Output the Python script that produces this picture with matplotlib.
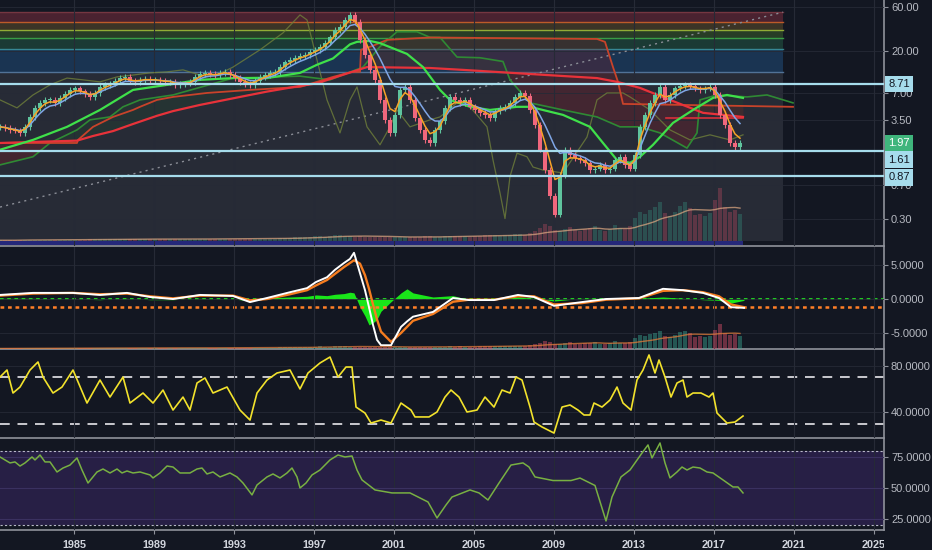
import numpy as np
import pandas as pd
import matplotlib
matplotlib.use('Agg')
import matplotlib.pyplot as plt
import matplotlib.transforms as mtransforms
from matplotlib.ticker import NullLocator

plt.rcParams['font.family'] = ['Liberation Sans', 'DejaVu Sans']

BG = '#131722'
GRID = '#262a36'
SEP = '#8f929b'
TXT = '#b7bac2'

# ---------------- data ----------------
t0 = 1981.3          # first quarter on screen
t_end = 2025.5       # right edge of the plot area

# quarterly closes
close = [2.98, 2.90, 2.76, 2.70, 2.56, 2.98, 3.82, 4.79, 5.43, 5.85,
         5.85, 5.43, 6.15, 6.80, 7.51, 7.80, 7.25, 6.80, 6.30, 6.96,
         8.09, 8.52, 8.85, 9.35, 10.1, 10.4, 9.35, 9.19, 9.66, 9.90,
         9.66, 9.66, 9.35, 9.19, 9.19, 8.52, 8.70, 8.85, 9.19, 10.4,
         11.2, 11.5, 11.2, 10.9, 11.5, 11.8, 10.9, 10.1, 9.19, 8.70,
         8.52, 9.35, 10.4, 10.9, 11.5, 11.8, 13.3, 15.0, 15.9, 16.8,
         17.6, 18.0, 19.4, 20.5, 22.0, 24.6, 28.0, 33.7, 36.3, 43.3,
         49.1, 41.4, 26.3, 18.0, 12.4, 9.66, 5.85, 3.55, 2.56, 4.02,
         7.51, 8.09, 5.85, 3.73, 2.76, 2.15, 1.99, 2.76, 3.42, 4.79,
         6.30, 5.85, 5.43, 5.85, 4.95, 4.55, 4.23, 4.02, 3.73, 4.38,
         4.79, 4.95, 5.43, 6.30, 6.96, 6.46, 4.55, 3.13, 1.68, 1.01,
         0.53, 0.33, 0.895, 1.68, 1.48, 1.36, 1.30, 1.21, 1.01, 1.05,
         1.15, 1.01, 1.05, 1.30, 1.41, 1.15, 1.05, 1.48, 2.98, 4.02,
         5.43, 6.62, 8.09, 5.85, 6.62, 7.80, 8.30, 8.52, 8.30, 7.80,
         7.51, 7.80, 8.09, 6.62, 4.02, 3.13, 1.99, 1.80, 1.99]

volume = [2, 2, 2, 2, 3, 3, 3, 3, 3, 3, 3, 3, 3, 3, 3, 3, 3, 3, 4, 4,
          4, 4, 4, 4, 4, 4, 4, 4, 4, 4, 4, 4, 4, 4, 4, 4, 4, 4, 4, 4,
          4, 5, 5, 5, 5, 5, 5, 5, 5, 5, 5, 5, 5, 5, 5, 5, 6, 6,
          6, 7, 7, 8, 8, 9, 10, 8, 9, 11, 12, 10, 9, 8, 9, 8, 7, 8, 8, 7,
          7, 8, 8, 7, 7, 8, 8, 9, 9, 8, 8, 9, 10, 9, 10, 9, 8, 9, 10, 11,
          12, 11, 10, 11, 12, 13, 13, 12,
          14, 18, 24, 30, 26, 20, 18, 22, 25, 20, 18, 22, 24, 26, 20, 18,
          22, 28, 24, 22, 26, 40,
          52, 48, 55, 60, 68, 50, 45, 52, 62, 68, 58, 46, 48, 45, 50, 72,
          93, 60, 52, 55, 48]

quarters = t0 + 0.25 * np.arange(len(close))

# fibonacci zone
fib_right = 2020.45
fib_levels = [52.6, 41.1, 33.6, 27.6, 20.9, 11.8]
fib_floor = 0.171
fib_fill = ['#4a2230', '#3b3426', '#283d26', '#1b3a34', '#1a3452', '#272b36']
fib_line = ['#7d3a45', '#d4622a', '#a5c23a', '#3fae4a', '#3d98a0', '#5a7fa8']
trend_x = [t0, fib_right]
trend_y = [0.40, 52.6]

# level lines at the right
level_lines = [8.71, 1.61, 0.87]
last_price = 1.97

# moving averages / overlays
green_t = [1981.30, 1982.95, 1984.65, 1986.30, 1987.95, 1989.65, 1991.30, 1992.95,
           1994.65, 1996.30, 1997.15, 1997.95, 1998.80, 1999.15, 1999.80, 2000.30,
           2001.65, 2002.45, 2003.30, 2003.80, 2004.80, 2005.80, 2007.15, 2007.80,
           2009.45, 2010.80, 2011.45, 2012.15, 2012.80, 2013.30, 2013.95, 2014.95,
           2015.95, 2016.95, 2017.65, 2018.45]
green_v = [1.68, 2.15, 2.98, 4.55, 7.51, 8.52, 9.66, 10.1,
           10.1, 11.5, 14.1, 16.5, 23.5, 25.0, 25.6, 24.2,
           18.5, 13.3, 7.51, 5.85, 4.92, 4.55, 4.92, 4.92,
           4.02, 2.98, 1.99, 1.30, 1.21, 1.41, 1.90, 3.29,
           4.55, 6.15, 6.62, 6.15]

dgreen_t = [1981.30, 1982.95, 1983.80, 1985.15, 1985.80, 1986.80, 1987.45, 1988.30,
            1989.95, 1992.95, 1996.30, 1997.80, 1999.45, 2000.30, 2001.15, 2002.15,
            2002.80, 2003.30, 2004.15, 2005.30, 2006.45, 2006.80, 2007.80, 2009.45,
            2011.15, 2012.30, 2013.30, 2014.30, 2015.65, 2016.15, 2016.30, 2017.15,
            2018.65, 2019.65, 2020.95]
dgreen_v = [1.15, 1.41, 1.99, 2.76, 3.55, 3.82, 4.92, 5.85,
            6.62, 10.1, 10.6, 9.66, 13.3, 22.2, 32.2, 32.2,
            28.0, 28.0, 17.1, 16.8, 15.3, 9.66, 5.43, 4.55,
            3.82, 2.98, 2.98, 2.56, 1.75, 2.56, 5.85, 6.62,
            6.30, 6.62, 5.43]

olive_t = [1981.30, 1982.15, 1982.95, 1983.80, 1984.65, 1985.45, 1986.30, 1987.15,
           1987.95, 1988.80, 1989.65, 1990.45, 1991.30, 1992.15, 1992.95, 1994.30,
           1995.45, 1996.30, 1996.65, 1997.15, 1997.65, 1998.30, 1998.80, 1999.15,
           1999.65, 2000.30, 2000.80, 2001.15, 2001.80, 2002.80, 2003.30, 2004.15,
           2004.80, 2005.65, 2005.95, 2006.30, 2006.55, 2006.80, 2007.15, 2007.65,
           2007.95, 2008.45, 2009.45, 2010.65, 2011.15, 2011.65, 2012.45, 2012.80,
           2013.80, 2014.80, 2015.80, 2016.80, 2017.80, 2018.45]
olive_v = [5.85, 4.79, 6.62, 8.52, 10.1, 9.66, 9.19, 10.4,
           10.9, 11.5, 11.8, 12.4, 10.9, 10.9, 13.3, 20.5,
           31.3, 49.1, 43.3, 15.9, 5.85, 2.56, 5.85, 8.09,
           2.98, 1.90, 2.98, 4.55, 2.98, 3.55, 3.82, 5.43,
           4.92, 2.98, 1.30, 0.57, 0.30, 0.86, 1.54, 1.41,
           1.09, 1.01, 0.94, 2.31, 5.85, 6.96, 6.96, 6.30,
           4.55, 2.76, 2.15, 2.44, 2.15, 2.44]

red_t = [1981.30, 1985.15, 1985.95, 1986.95, 1987.95, 1989.15, 1989.95, 1991.30,
         1993.80, 1994.65, 1996.30, 1997.15, 1997.95, 1998.90, 1999.65, 2002.80,
         2004.45, 2008.65, 2011.15, 2012.15, 2013.30, 2014.80, 2016.45, 2018.45]
red_v = [1.99, 2.11, 2.37, 2.68, 3.20, 3.93, 4.42, 5.16,
         6.62, 7.20, 8.30, 8.85, 10.1, 11.8, 13.3, 13.0,
         12.4, 10.9, 10.1, 9.19, 7.90, 5.85, 4.23, 3.82]

stop_t = [1981.30, 1985.15, 1985.20, 1985.95, 1986.95, 1987.95, 1988.30, 1989.15,
          1989.95, 1991.65, 1993.80, 1996.30, 1997.15, 1997.95, 1998.90, 1999.30,
          1999.35, 1999.95, 2000.65, 2002.80, 2011.15, 2011.55, 2011.95, 2012.20,
          2012.45, 2020.95]
stop_v = [1.99, 1.99, 2.15, 2.98, 3.82, 4.55, 4.92, 5.85,
          6.30, 6.96, 7.51, 8.09, 9.19, 10.4, 11.8, 11.8,
          20.5, 22.7, 26.3, 27.9, 26.9, 25.0, 13.3, 9.19,
          5.29, 4.92]

red_flat_t = [2014.60, 2018.45]
red_flat_v = [3.70, 3.70]

# MACD panel
macd_t = [1981.30, 1982.95, 1984.95, 1986.30, 1987.65, 1988.80, 1989.95, 1991.30, 1992.95, 1993.80,
          1994.65, 1995.80, 1996.65, 1997.10, 1997.65, 1998.05, 1998.50, 1998.80, 1999.00, 1999.30,
          1999.55, 1999.75, 1999.95, 2000.15, 2000.35, 2000.85, 2001.35, 2001.65, 2001.95, 2002.95,
          2003.95, 2004.75, 2006.00, 2007.20, 2008.00, 2009.00, 2010.40, 2011.60, 2013.25, 2014.45,
          2015.45, 2016.45, 2017.25, 2017.85, 2018.50]
macd_line = [0.6, 0.9, 0.9, 0.6, 0.9, 0.3, 0.0, 0.6, 0.45, -0.45,
             0.15, 1.0, 1.6, 2.5, 3.2, 4.3, 5.3, 5.9, 6.8, 3.8,
             1.3, -1.2, -3.8, -6.0, -6.8, -6.8, -4.1, -3.3, -2.6, -1.9,
             0.15, -0.15, -0.15, 0.6, 0.3, -1.0, -0.45, 0.0, 0.15, 1.5,
             1.3, 0.9, 0.15, -1.2, -1.3]
macd_signal = [0.5, 0.8, 0.9, 0.7, 0.8, 0.4, 0.1, 0.5, 0.5, -0.2,
               0.0, 0.7, 1.3, 2.0, 2.8, 3.7, 4.7, 5.3, 5.7, 5.2,
               3.5, 1.5, -0.8, -3.0, -4.8, -6.3, -5.0, -4.1, -3.2, -2.2,
               -0.4, -0.1, -0.1, 0.4, 0.4, -0.8, -0.6, -0.1, 0.1, 1.2,
               1.3, 1.0, 0.4, -0.8, -1.2]
macd_hist = [0.1, 0.1, 0.0, -0.1, 0.1, -0.1, -0.1, 0.1, 0.0, -0.25,
             0.15, 0.3, 0.4, 0.6, 0.5, 0.7, 0.8, 1.0, 0.9, -1.2,
             -2.5, -3.8, -3.5, -3.0, -1.8, -0.4, 0.9, 1.5, 0.9, 0.3,
             0.5, -0.1, -0.1, 0.3, 0.1, -0.3, 0.1, 0.1, 0.1, 0.3,
             0.1, -0.1, -0.2, -0.6, -0.2]
macd_level = -1.2

# RSI panel
rsi_t = [1981.30, 1981.65, 1981.95, 1982.30, 1982.80, 1983.20, 1983.45, 1983.95, 1984.40, 1984.95,
         1985.65, 1986.30, 1986.80, 1987.45, 1987.80, 1988.45, 1988.95, 1989.45, 1989.95, 1990.45,
         1990.80, 1991.15, 1991.55, 1991.95, 1992.65, 1993.30, 1993.80, 1994.15, 1994.65, 1995.15,
         1995.80, 1996.30, 1996.70, 1997.30, 1997.80, 1998.20, 1998.60, 1998.90, 1999.10, 1999.55,
         1999.85, 2000.35, 2000.85, 2001.35, 2001.85, 2002.05, 2002.75, 2003.15, 2003.55, 2003.85,
         2004.25, 2004.65, 2005.15, 2005.55, 2006.00, 2006.40, 2006.80, 2007.10, 2007.40, 2007.80,
         2008.00, 2008.40, 2009.00, 2009.40, 2009.80, 2010.20, 2010.50, 2010.80, 2011.00, 2011.40,
         2011.80, 2012.15, 2012.45, 2012.85, 2013.15, 2013.45, 2013.75, 2014.05, 2014.25, 2014.55,
         2014.85, 2015.15, 2015.45, 2015.65, 2015.95, 2016.35, 2016.75, 2016.95, 2017.15, 2017.65,
         2018.05, 2018.45]
rsi_v = [70.4, 76.5, 56.5, 61.7, 76.5, 83.5, 70.4, 56.5, 61.7, 76.5,
         47.8, 67.8, 53.0, 70.4, 47.8, 56.5, 47.8, 59.1, 41.7, 53.0,
         41.7, 65.2, 69.6, 56.5, 61.7, 41.7, 33.0, 56.5, 67.8, 73.9,
         76.5, 60.0, 73.9, 82.6, 87.8, 70.4, 79.1, 79.1, 44.3, 39.1,
         30.4, 33.0, 30.4, 47.8, 41.7, 35.7, 35.7, 40.0, 53.0, 59.1,
         53.0, 40.0, 41.7, 53.0, 44.3, 59.1, 56.5, 70.4, 67.8, 44.3,
         31.3, 27.0, 21.7, 44.3, 46.1, 41.7, 37.4, 37.4, 47.8, 44.3,
         50.4, 61.7, 47.8, 41.7, 67.8, 76.5, 89.6, 73.9, 85.2, 70.4,
         53.0, 65.2, 67.8, 53.0, 56.5, 56.5, 53.0, 56.5, 39.1, 30.4,
         31.3, 36.5]
rsi_bands = [70, 30]

# bottom oscillator
osc_t = [1981.30, 1981.55, 1981.80, 1982.05, 1982.30, 1982.55, 1982.90, 1983.05, 1983.30, 1983.55,
         1983.80, 1984.15, 1984.45, 1984.80, 1985.15, 1985.40, 1985.70, 1986.15, 1986.45, 1986.80,
         1987.15, 1987.40, 1987.65, 1987.95, 1988.30, 1988.80, 1988.95, 1989.30, 1989.65, 1989.95,
         1990.30, 1990.80, 1991.15, 1991.40, 1991.65, 1991.95, 1992.30, 1992.80, 1993.15, 1993.45,
         1993.90, 1994.15, 1994.65, 1994.95, 1995.30, 1995.65, 1995.90, 1996.15, 1996.30, 1996.60,
         1996.90, 1997.30, 1997.80, 1998.20, 1998.55, 1998.90, 1999.15, 1999.40, 2000.05, 2000.90,
         2001.80, 2002.70, 2003.15, 2003.60, 2003.90, 2004.80, 2005.25, 2005.70, 2006.25, 2006.85,
         2007.45, 2007.75, 2008.05, 2008.95, 2009.85, 2010.30, 2011.05, 2011.60, 2011.90, 2012.35,
         2012.80, 2013.40, 2013.70, 2013.90, 2014.30, 2014.55, 2014.80, 2015.15, 2015.40, 2015.65,
         2015.95, 2016.30, 2016.65, 2016.95, 2017.45, 2017.95, 2018.20, 2018.45]
osc_v = [75.0, 72.6, 70.2, 71.0, 67.7, 70.2, 75.0, 72.6, 76.6, 71.0,
         71.0, 62.9, 66.1, 68.5, 74.2, 64.5, 54.0, 62.9, 65.3, 62.1,
         65.3, 62.1, 63.7, 62.1, 62.9, 60.5, 58.1, 62.1, 67.7, 66.9,
         62.1, 62.1, 65.3, 66.1, 61.3, 62.9, 58.9, 62.1, 58.9, 54.0,
         44.4, 52.4, 58.9, 61.3, 58.1, 62.1, 66.1, 58.9, 50.0, 54.0,
         60.5, 64.5, 72.6, 76.6, 75.0, 75.8, 64.5, 56.5, 48.4, 46.0,
         46.0, 38.7, 25.8, 36.3, 42.7, 48.4, 46.0, 40.3, 54.0, 68.5,
         70.2, 66.9, 58.9, 56.0, 56.0, 58.0, 52.0, 23.4, 42.7, 58.9,
         64.5, 78.2, 84.7, 74.2, 86.3, 70.2, 58.1, 62.9, 66.9, 64.5,
         66.9, 66.1, 62.9, 62.1, 56.5, 50.8, 50.8, 46.0]
osc_bands = [80, 20]

years = list(range(1985, 2026, 4))

# ---------------- figure ----------------
W, H = 932, 550
fig = plt.figure(figsize=(W / 100, H / 100), dpi=100, facecolor=BG)


def panel(top, bottom):
    ax = fig.add_axes([0, 1 - bottom / H, 884 / W, (bottom - top) / H], facecolor=BG)
    ax.set_xlim(t0, t_end)
    ax.set_xticks(years)
    ax.grid(axis='x', color=GRID, lw=0.8)
    ax.grid(axis='y', color=GRID, lw=0.6)
    ax.set_axisbelow(False)
    for s in ['left', 'top']:
        ax.spines[s].set_visible(False)
    for s in ['right', 'bottom']:
        ax.spines[s].set_color(SEP)
        ax.spines[s].set_linewidth(1.2)
    return ax


def right_ticks(ax):
    # twinx() flips the host axis to the left, so put it back
    ax.yaxis.tick_right()
    ax.tick_params(axis='y', which='both', left=False, labelleft=False, right=True,
                   labelright=True, colors=SEP, labelcolor=TXT, labelsize=8, length=3, pad=2)
    ax.tick_params(axis='x', length=0, labelbottom=False)


def volume_overlay(ax, top, alpha, ma_color):
    axv = ax.twinx()
    axv.set_ylim(top[0], top[1])
    axv.bar(quarters, volume, width=0.22, color=vcols, alpha=alpha, lw=0)
    axv.plot(quarters, pd.Series(volume).rolling(12, min_periods=1).mean(),
             color=ma_color, lw=1, alpha=0.75)
    axv.yaxis.set_visible(False)
    for s in axv.spines.values():
        s.set_visible(False)
    return axv


ax1 = panel(0, 246)
ax2 = panel(247, 349)
ax3 = panel(350, 438)
ax4 = panel(439, 530)

c = np.array(close)
o = np.r_[c[0], c[:-1]]
up = c >= o
cols = np.where(up, '#5fc49e', '#f0677d')
vcols = np.where(up, '#3aa58f', '#d9506a')

# ---- main price panel ----
ax1.set_yscale('log')
ax1.set_ylim(0.151, 71.3)

bounds = fib_levels + [fib_floor]
for hi, lo, col in zip(bounds[:-1], bounds[1:], fib_fill):
    ax1.fill_between([t0, fib_right], lo, hi, color=col, lw=0, zorder=0.5)
for lv, col in zip(fib_levels, fib_line):
    ax1.plot([t0, fib_right], [lv, lv], color=col, lw=1, alpha=0.85, zorder=0.6)
ax1.plot(trend_x, trend_y, color='#8a8d96', lw=1, ls=(0, (1.5, 3)), zorder=3)

# cloud-ish shading between overlays
grid_t = np.linspace(t0, 2018.45, 600)
dg_i = np.exp(np.interp(grid_t, dgreen_t, np.log(dgreen_v)))
rd_i = np.exp(np.interp(grid_t, red_t, np.log(red_v)))
ax1.fill_between(grid_t, dg_i, rd_i, where=dg_i < rd_i, color='#7a1f28', alpha=0.35, lw=0, zorder=1)
ax1.fill_between(grid_t, dg_i, rd_i, where=dg_i >= rd_i, color='#1f5a2a', alpha=0.18, lw=0, zorder=1)
grid_s = np.linspace(1999.35, 2018.45, 400)
st_i = np.exp(np.interp(grid_s, stop_t, np.log(stop_v)))
rs_i = np.exp(np.interp(grid_s, red_t, np.log(red_v)))
ax1.fill_between(grid_s, st_i, rs_i, color='#7a1f28', alpha=0.3, lw=0, zorder=1)

ax1.plot(olive_t, olive_v, color='#6f7f3a', lw=0.9, alpha=0.8, zorder=3)
ax1.plot(dgreen_t, dgreen_v, color='#2f8a34', lw=1.2, zorder=3.2)
ax1.plot(stop_t, stop_v, color='#c8432a', lw=1.3, zorder=3.3)
ax1.plot(red_flat_t, red_flat_v, color='#d8303a', lw=1.2, zorder=3.3)
ax1.plot(red_t, red_v, color='#e8323a', lw=1.6, zorder=3.4)
ax1.plot(green_t, green_v, color='#3fe04a', lw=1.6, zorder=3.5)

ax1.vlines(quarters, np.minimum(o, c) / 1.07, np.maximum(o, c) * 1.07, color=cols, lw=0.8, zorder=4)
body = np.maximum(np.abs(c - o), c * 0.03)
ax1.bar(quarters, body, bottom=np.minimum(o, c), width=0.17, color=cols, lw=0, zorder=4.1)

ema_fast = pd.Series(close).ewm(span=3).mean()
ema_slow = pd.Series(close).ewm(span=6).mean()
ax1.plot(quarters, ema_slow, color='#7fa6e6', lw=1.1, zorder=4.5)
ax1.plot(quarters, ema_fast, color='#f7a327', lw=1.1, zorder=4.6)

ax1.fill_between([t0, 2018.45], 0.154, 0.170, color='#25287a', lw=0, zorder=2)

for lv in level_lines:
    ax1.axhline(lv, color='#a6dcec', lw=1.6, zorder=6)

volume_overlay(ax1, (-8, 420), 0.3, '#d8a47f')
right_ticks(ax1)
ax1.yaxis.set_minor_locator(NullLocator())
ticks1 = [60, 20, 7, 3.5, 0.7, 0.3]
ax1.set_yticks(ticks1)
ax1.set_yticklabels(['%.2f' % v for v in ticks1])

trans = mtransforms.blended_transform_factory(ax1.transAxes, ax1.transData)
label_style = dict(xycoords=trans, textcoords='offset points', ha='left', va='center',
                   fontsize=8, annotation_clip=False, zorder=10)
ax1.annotate('8.71', xy=(1.0, 8.71), xytext=(3, 0), color='#131722',
             bbox=dict(boxstyle='square,pad=0.3', fc='#a6dcec', ec='none'), **label_style)
ax1.annotate('%.2f' % last_price, xy=(1.0, last_price), xytext=(3, 0), color='white',
             bbox=dict(boxstyle='square,pad=0.3', fc='#3fb57c', ec='none'), **label_style)
ax1.annotate('1.61', xy=(1.0, 1.61), xytext=(3, -6), color='#131722',
             bbox=dict(boxstyle='square,pad=0.3', fc='#a6dcec', ec='none'), **label_style)
ax1.annotate('0.87', xy=(1.0, 0.87), xytext=(3, -1), color='#131722',
             bbox=dict(boxstyle='square,pad=0.3', fc='#a6dcec', ec='none'), **label_style)

# ---- MACD panel ----
ax2.set_ylim(-7.35, 7.65)
ax2.fill_between(macd_t, 0, macd_hist, color='#19e619', lw=0, zorder=2)
ax2.axhline(0, color='#22dd22', lw=1.3, ls=(0, (2, 2)), zorder=2.5)
ax2.axhline(macd_level, color='#ff7f27', lw=1.8, ls=(0, (1.5, 1.5)), zorder=2.5)
ax2.plot(macd_t, macd_signal, color='#f57c1f', lw=1.7, zorder=3)
ax2.plot(macd_t, macd_line, color='white', lw=1.4, zorder=3.1)
volume_overlay(ax2, (0, 380), 0.45, '#e07b39')
right_ticks(ax2)
ax2.set_yticks([5, 0, -5])
ax2.set_yticklabels(['5.0000', '0.0000', '-5.0000'])

# ---- RSI panel ----
ax3.set_ylim(17.4, 93.9)
for b in rsi_bands:
    ax3.axhline(b, color='#c9c9cf', lw=1.4, ls=(0, (5, 4)), zorder=2)
ax3.plot(rsi_t, rsi_v, color='#f2e22c', lw=1.2, zorder=3)
right_ticks(ax3)
ax3.set_yticks([80, 40])
ax3.set_yticklabels(['80.0000', '40.0000'])

# ---- bottom oscillator ----
ax4.set_ylim(16.1, 89.5)
ax4.axhspan(osc_bands[1], osc_bands[0], color='#271f45', lw=0, zorder=0.5)
ax4.grid(axis='y', color='#3a3160', lw=0.8)
for b in osc_bands:
    ax4.axhline(b, color='#b8b8c8', lw=0.8, ls=(0, (2, 2)), zorder=2)
ax4.plot(osc_t, osc_v, color='#78b042', lw=1.1, zorder=3)
right_ticks(ax4)
ax4.set_yticks([75, 50, 25])
ax4.set_yticklabels(['75.0000', '50.0000', '25.0000'])
ax4.tick_params(axis='x', length=3, colors=SEP, labelcolor='#d1d4dc', labelsize=7.8,
                labelbottom=True, pad=4)
ax4.set_xticklabels([str(y) for y in years], fontweight='bold')

# the price scale column hides whatever runs past the plot area
clip = mtransforms.TransformedBbox(mtransforms.Bbox([[0, 0], [884 / W, 1]]), fig.transFigure)
for lbl in ax4.get_xticklabels():
    lbl.set_clip_on(True)
    lbl.set_clip_box(clip)

fig.savefig('out.png', dpi=100, facecolor=BG)
